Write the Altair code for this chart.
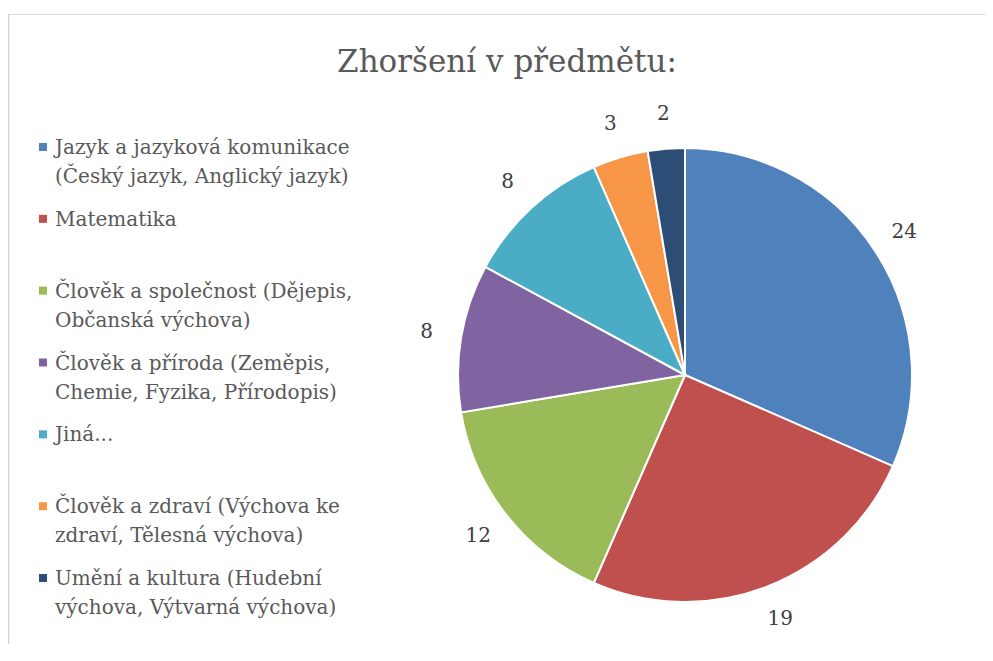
import altair as alt
import pandas as pd

TITLE = "Zhoršení v předmětu:"

categories = [
    "Jazyk a jazyková komunikace (Český jazyk, Anglický jazyk)",
    "Matematika",
    "Člověk a společnost (Dějepis, Občanská výchova)",
    "Člověk a příroda (Zeměpis, Chemie, Fyzika, Přírodopis)",
    "Jiná...",
    "Člověk a zdraví (Výchova ke zdraví, Tělesná výchova)",
    "Umění a kultura (Hudební výchova, Výtvarná výchova)",
]
legend_labels = [
    "Jazyk a jazyková komunikace\n(Český jazyk, Anglický jazyk)",
    "Matematika",
    "Člověk a společnost (Dějepis,\nObčanská výchova)",
    "Člověk a příroda (Zeměpis,\nChemie, Fyzika, Přírodopis)",
    "Jiná...",
    "Člověk a zdraví (Výchova ke\nzdraví, Tělesná výchova)",
    "Umění a kultura (Hudební\nvýchova, Výtvarná výchova)",
]
values = [24, 19, 12, 8, 8, 3, 2]
colors = ["#4F81BD", "#C0504D", "#9BBB59", "#8064A2", "#4BACC6", "#F79646", "#2C4D75"]

df = pd.DataFrame({
    "cat": categories,
    "label": legend_labels,
    "value": values,
    "idx": list(range(len(categories))),
})

FONT = "DejaVu Serif"
TEXT_COLOR = "#595959"
CX, CY = 677, 361

color = alt.Color("cat:N", scale=alt.Scale(domain=categories, range=colors), legend=None)
theta = alt.Theta("value:Q", stack=True)
order = alt.Order("idx:Q")

base = alt.Chart(df)

arcs = base.mark_arc(outerRadius=227, stroke="white", strokeWidth=2).encode(
    theta=theta, order=order, color=color, x=alt.value(CX), y=alt.value(CY)
)

pie_labels = base.mark_text(radius=262, fontSize=20, font=FONT, color="#404040").encode(
    theta=theta, order=order, text="value:Q", x=alt.value(CX), y=alt.value(CY)
)

ypos = alt.Y("idx:O", scale=alt.Scale(range=[133, 564], padding=0), axis=None)

legend_sq = base.mark_square(size=64, opacity=1).encode(
    x=alt.value(35), y=ypos, color=color
)
legend_txt = base.mark_text(
    align="left", baseline="alphabetic", dy=7, fontSize=20, font=FONT,
    color=TEXT_COLOR, lineBreak="\n", lineHeight=29
).encode(x=alt.value(47), y=ypos, text="label:N")

title = alt.Chart(alt.Data(values=[{"t": TITLE}])).mark_text(
    fontSize=31, font=FONT, color=TEXT_COLOR, align="center", baseline="alphabetic"
).encode(text="t:N", x=alt.value(499), y=alt.value(58))

border_top = alt.Chart(alt.Data(values=[{"a": 1}])).mark_rule(color="#d9d9d9", strokeWidth=1).encode(
    x=alt.value(0), x2=alt.value(977), y=alt.value(0.5)
)
border_left = alt.Chart(alt.Data(values=[{"a": 1}])).mark_rule(color="#d0d0d0", strokeWidth=1.5).encode(
    x=alt.value(0.5), y=alt.value(0), y2=alt.value(660)
)

chart = alt.layer(
    border_top, border_left, arcs, pie_labels, legend_sq, legend_txt, title
).properties(
    width=977, height=630, autosize="none",
    padding={"left": 0, "top": 6, "right": 0, "bottom": 0},
).configure_view(strokeWidth=0)

chart.save("out.html", embed_options={"renderer": "svg", "actions": False})
